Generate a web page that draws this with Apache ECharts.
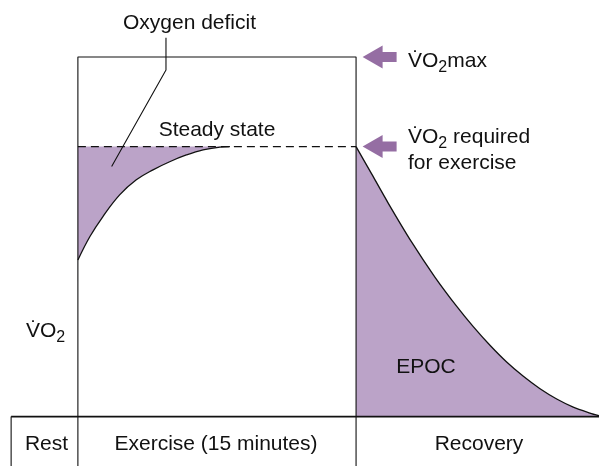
<!DOCTYPE html>
<html>
<head>
<meta charset="utf-8">
<script src="https://cdn.jsdelivr.net/npm/echarts@6/dist/echarts.min.js"></script>
<style>
  html, body { margin: 0; padding: 0; background: #fff; }
  #chart { width: 599px; height: 466px; }
</style>
</head>
<body>
<div id="chart"></div>
<script>
// Time axis in minutes (0 = start of exercise), VO2 in % of the exercise requirement
const xRange = [-4.2, 28.1];
const yRange = [-18.3, 154.3];

const restStart = -3.6;
const exerciseEnd = 15;
const steadyVO2 = 100;
const maxVO2 = 133.2;

// VO2 rising at the start of exercise
const exerciseMin = [0, 0.65, 1.35, 2.25, 3.15, 4.05, 4.95, 5.85, 6.75, 7.65, 8.2];
const exerciseVO2 = [58, 66.7, 74.1, 82.1, 87.7, 91.4, 94.4, 96.9, 98.8, 99.8, 100];

// VO2 falling back during recovery
const recoveryMin = [15, 15.84, 16.74, 18.0, 19.26, 20.43, 21.32, 22.22, 23.12, 24.02, 24.92, 25.82, 26.71, 27.61, 28.1];
const recoveryVO2 = [100, 89.9, 79.0, 64.6, 51.6, 40.8, 33.3, 26.4, 20.2, 14.9, 10.3, 6.5, 3.5, 1.3, 0.3];

const phaseLabels = ['Rest', 'Exercise (15 minutes)', 'Recovery'];

const FILL = '#bba3c8';
const ARROW = '#7b4a8c';
const INK = '#111';
const FONT = 'Liberation Sans, Arial, Helvetica, sans-serif';
const MAIN_FONT = '21px ' + FONT;
const SUB_FONT = '16px ' + FONT;

const curvePts = exerciseMin.map((m, i) => [m, exerciseVO2[i]]);
const recoveryPts = recoveryMin.map((m, i) => [m, recoveryVO2[i]]);
// the deficit band stops where the curve is within a hair of steady state,
// and starts below the curve's lowest point, so its edges stay hidden
const bandEnd = exerciseMin[exerciseMin.length - 2];
const bandBase = Math.min.apply(null, exerciseVO2) - 8;

function seg(points, opts) {
  return Object.assign({
    type: 'line', data: points, symbol: 'none', silent: true,
    lineStyle: { color: INK, width: 1.1 }, z: 5, animation: false
  }, opts || {});
}

const arrowPath = 'path://M0,11.5 L20,0 L20,6.5 L34,6.5 L34,16.5 L20,16.5 L20,23 Z';

const chart = echarts.init(document.getElementById('chart'), null, { renderer: 'canvas' });

function label(x, y, text, align, font) {
  return {
    type: 'text', x: x, y: y, z: 20,
    style: {
      text: text, font: font || MAIN_FONT, fill: INK,
      align: align || 'center', verticalAlign: 'middle'
    }
  };
}

// "V̇O₂" followed by an optional suffix, the 2 set as a lowered subscript
const measureCtx = document.createElement('canvas').getContext('2d');
function textWidth(text, font) {
  measureCtx.font = font;
  return measureCtx.measureText(text).width;
}
function vo2Label(x, y, suffix) {
  const head = 'V\u0307O';
  const w1 = textWidth(head, MAIN_FONT);
  const w2 = textWidth('2', SUB_FONT);
  const parts = [
    label(x, y, head, 'left'),
    label(x + w1, y + 7, '2', 'left', SUB_FONT)
  ];
  if (suffix) parts.push(label(x + w1 + w2, y, suffix, 'left'));
  return parts;
}

chart.setOption({
  animation: false,
  grid: { left: 0, right: 0, top: 0, bottom: 0 },
  xAxis: { type: 'value', min: xRange[0], max: xRange[1], show: false },
  yAxis: { type: 'value', min: yRange[0], max: yRange[1], show: false },
  series: [
    // oxygen deficit: the band up to the steady-state level ...
    seg([[0, steadyVO2], [bandEnd, steadyVO2]], { lineStyle: { width: 0 }, areaStyle: { color: FILL, opacity: 1, origin: bandBase }, z: 2 }),
    // ... minus everything under the actual VO2 curve
    seg(curvePts, { smooth: 0.4, lineStyle: { color: INK, width: 1.3 }, areaStyle: { color: '#fff', opacity: 1, origin: 0 }, z: 3 }),
    // EPOC area under the recovery curve
    seg(recoveryPts, { smooth: 0.3, lineStyle: { color: INK, width: 1.3 }, areaStyle: { color: FILL, opacity: 1, origin: 0 }, z: 4 }),
    // steady state level
    seg([[0, steadyVO2], [exerciseEnd, steadyVO2]], { lineStyle: { color: INK, width: 1.3, type: [8, 5] }, z: 7 }),
    // exercise box and phase table
    seg([[0, yRange[0]], [0, maxVO2], [exerciseEnd, maxVO2], [exerciseEnd, yRange[0]]]),
    seg([[restStart, 0], [xRange[1], 0]], { lineStyle: { color: INK, width: 1.6 } }),
    seg([[restStart, yRange[0]], [restStart, 0]]),
    // leader line for the deficit label
    seg([[4.75, 140.3], [4.75, 128.4], [1.82, 92.6]], { lineStyle: { color: INK, width: 1.1 }, z: 8 }),
    // arrows marking VO2max and the required VO2
    {
      type: 'scatter', silent: true, animation: false, z: 9,
      symbol: arrowPath, symbolSize: [34, 23],
      itemStyle: { color: ARROW },
      data: [[16.27, maxVO2], [16.27, steadyVO2]]
    }
  ],
  graphic: [].concat(
    [label(189.5, 23, 'Oxygen deficit'), label(217, 130, 'Steady state')],
    vo2Label(408, 61, 'max'),
    vo2Label(408, 137, ' required'),
    [label(408, 163, 'for exercise', 'left')],
    vo2Label(26, 331),
    [
      label(426, 367, 'EPOC'),
      label(46.5, 444, phaseLabels[0]),
      label(216, 444, phaseLabels[1]),
      label(479, 444, phaseLabels[2])
    ]
  )
});
</script>
</body>
</html>
